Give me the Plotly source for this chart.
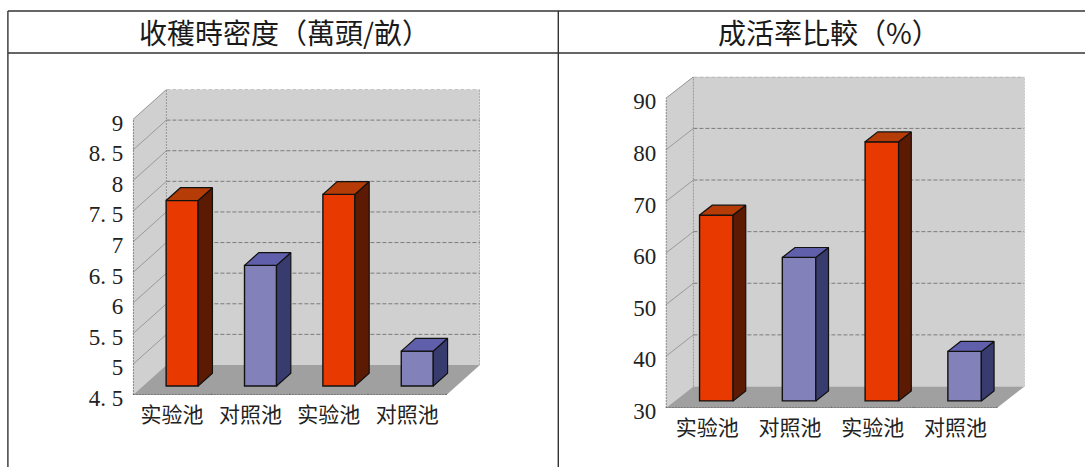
import plotly.graph_objects as go

W, H = 1085, 467
categories = ["实验池", "对照池", "实验池", "对照池"]
density_values = [7.53, 6.47, 7.63, 5.07]
survival_values = [66.0, 57.8, 80.2, 39.6]
density_ticks = [4.5, 5, 5.5, 6, 6.5, 7, 7.5, 8, 8.5, 9]
density_ticktext = ["4. 5", "5", "5. 5", "6", "6. 5", "7", "7. 5", "8", "8. 5", "9"]
survival_ticks = [30, 40, 50, 60, 70, 80, 90]
survival_ticktext = ["30", "40", "50", "60", "70", "80", "90"]
title_left = "收穫時密度（萬頭/畝）"
title_right = "成活率比較（%）"

RED = ("#e83a00", "#5c1a02", "#b53c06")
BLUE = ("#8381ba", "#383b6e", "#5f5fab")
bar_colors = [RED, BLUE, RED, BLUE]
WALL = "#d0d0d0"
FLOOR = "#a0a0a0"
GRID = "#666666"
LATIN = "Liberation Serif"
CJK = "Noto Sans CJK SC"

fig = go.Figure()
shapes = []


def chart(idx, values, ticks, ticktext, x0, x1, ytop, ybot, dxp, dyp, zf, zb, width):
    """Oblique 3D column chart. x0..x1 / ytop..ybot: front plane in pixels; dxp/dyp: depth in pixels."""
    suffix = "" if idx == 1 else "2"
    xa, ya = "x" + suffix, "y" + suffix
    lo, hi = ticks[0], ticks[-1]
    ux = (x1 - x0) / len(values)
    uy = (ybot - ytop) / (hi - lo)
    dx = dxp / ux
    dy = dyp / uy
    n = len(values)

    fig.layout["xaxis" + suffix] = dict(
        domain=[x0 / W, (x1 + dxp) / W], range=[0, n + dx], anchor=ya, automargin=False,
        tickmode="array", tickvals=[i + 0.5 for i in range(n)], ticktext=categories,
        tickfont=dict(family=CJK, size=21, color="#222"), showgrid=False, zeroline=False,
        showline=False, ticks="outside", ticklen=1, tickcolor="rgba(0,0,0,0)", fixedrange=True)
    fig.layout["yaxis" + suffix] = dict(
        domain=[1 - ybot / H, 1 - (ytop - dyp) / H], range=[lo, hi + dy], anchor=xa, automargin=False,
        tickmode="array", tickvals=ticks, ticktext=ticktext, ticklabelshift=3,
        tickfont=dict(family=LATIN, size=23, color="#222"), showgrid=False, zeroline=False,
        showline=False, ticks="outside", ticklen=4, tickcolor="rgba(0,0,0,0)", fixedrange=True)

    def poly(pts, fill, line=None):
        path = "M " + " L ".join(f"{a},{b}" for a, b in pts) + " Z"
        shapes.append(dict(type="path", path=path, xref=xa, yref=ya, layer="below",
                           fillcolor=fill, line=line or dict(width=0)))

    def seg(a, b, c, d, color=GRID, dash="4px,2px", w=0.8):
        shapes.append(dict(type="line", x0=a, y0=b, x1=c, y1=d, xref=xa, yref=ya, layer="below",
                           line=dict(color=color, width=w, dash=dash)))

    # walls and floor
    poly([(dx, lo + dy), (n + dx, lo + dy), (n + dx, hi + dy), (dx, hi + dy)], WALL)
    poly([(0, lo), (dx, lo + dy), (dx, hi + dy), (0, hi)], WALL)
    poly([(0, lo), (n, lo), (n + dx, lo + dy), (dx, lo + dy)], FLOOR)
    for t in ticks[1:-1]:
        seg(dx, t + dy, n + dx, t + dy)
        seg(0, t, dx, t + dy, color="#8c8c8c", dash="solid")
    seg(dx, hi + dy, n + dx, hi + dy, color="#808080")
    seg(dx, lo + dy, dx, hi + dy, color="#808080", dash="2px,1px")
    seg(n + dx, lo + dy, n + dx, hi + dy, color="#808080", dash="2px,1px")
    seg(0, hi, dx, hi + dy, color="#808080", dash="solid")
    seg(0, lo, 0, hi, color="#555555", dash="2px,1px", w=1.2)
    seg(0, lo, n, lo, color="#555555", dash="2px,1px", w=1.2)
    for i in range(n + 1):
        seg(i, lo, i, lo + 1.5 / uy, color="#666666", dash="solid")

    # front faces
    bw = width / ux
    centers = [i + 0.5 + zf * dx for i in range(n)]
    fig.add_trace(go.Bar(
        x=centers, y=[v - lo for v in values], base=lo + zf * dy, width=bw,
        xaxis=xa, yaxis=ya, showlegend=False, hoverinfo="skip",
        marker=dict(color=[c[0] for c in bar_colors], line=dict(color="#111", width=1.4))))
    # side and top faces, offset by the bar's depth
    d = (zb - zf)
    for cx, v, col in zip(centers, values, bar_colors):
        top = v + zf * dy
        base = lo + zf * dy
        r = cx + bw / 2
        l = cx - bw / 2
        fig.add_trace(go.Scatter(
            x=[r, r + d * dx, r + d * dx, r, r], y=[base, base + d * dy, top + d * dy, top, base],
            xaxis=xa, yaxis=ya, mode="lines", fill="toself", fillcolor=col[1],
            line=dict(color="#111", width=1.2), showlegend=False, hoverinfo="skip"))
        fig.add_trace(go.Scatter(
            x=[l, l + d * dx, r + d * dx, r, l], y=[top, top + d * dy, top + d * dy, top, top],
            xaxis=xa, yaxis=ya, mode="lines", fill="toself", fillcolor=col[2],
            line=dict(color="#111", width=1.2), showlegend=False, hoverinfo="skip"))


chart(1, density_values, density_ticks, density_ticktext, 132.9, 446.4, 119.5, 395, 33.5, 30, 0.30, 0.727, 32)
chart(2, survival_values, survival_ticks, survival_ticktext, 665.8, 996.9, 98.3, 408, 27.6, 21.5, 0.33, 0.79, 33.5)


def table_line(x0, y0, x1, y1, color="#333", w=1.4):
    shapes.append(dict(type="line", xref="paper", yref="paper", x0=x0 / W, x1=x1 / W,
                       y0=1 - y0 / H, y1=1 - y1 / H, line=dict(color=color, width=w), layer="above"))


table_line(7.9, 11, W, 11)
table_line(7.9, 53, W, 53)
table_line(7.9, 11, 7.9, H)
table_line(558.3, 11, 558.3, H)

fig.update_layout(
    width=W, height=H, margin=dict(l=0, r=0, t=0, b=0), paper_bgcolor="white", plot_bgcolor="rgba(0,0,0,0)",
    barmode="overlay", showlegend=False, shapes=shapes,
    annotations=[
        dict(text=title_left, x=284 / W, y=1 - 32 / H, xref="paper", yref="paper", showarrow=False,
             xanchor="center", yanchor="middle",
             font=dict(family="Noto Sans CJK TC", size=28, color="#1a1a1a")),
        dict(text=title_right, x=829 / W, y=1 - 32 / H, xref="paper", yref="paper", showarrow=False,
             xanchor="center", yanchor="middle",
             font=dict(family="Noto Sans CJK TC", size=28, color="#1a1a1a")),
    ])

fig.write_html("out.html", config=dict(displayModeBar=False),
               post_script="document.body.style.margin='0';document.body.style.overflow='hidden';")
